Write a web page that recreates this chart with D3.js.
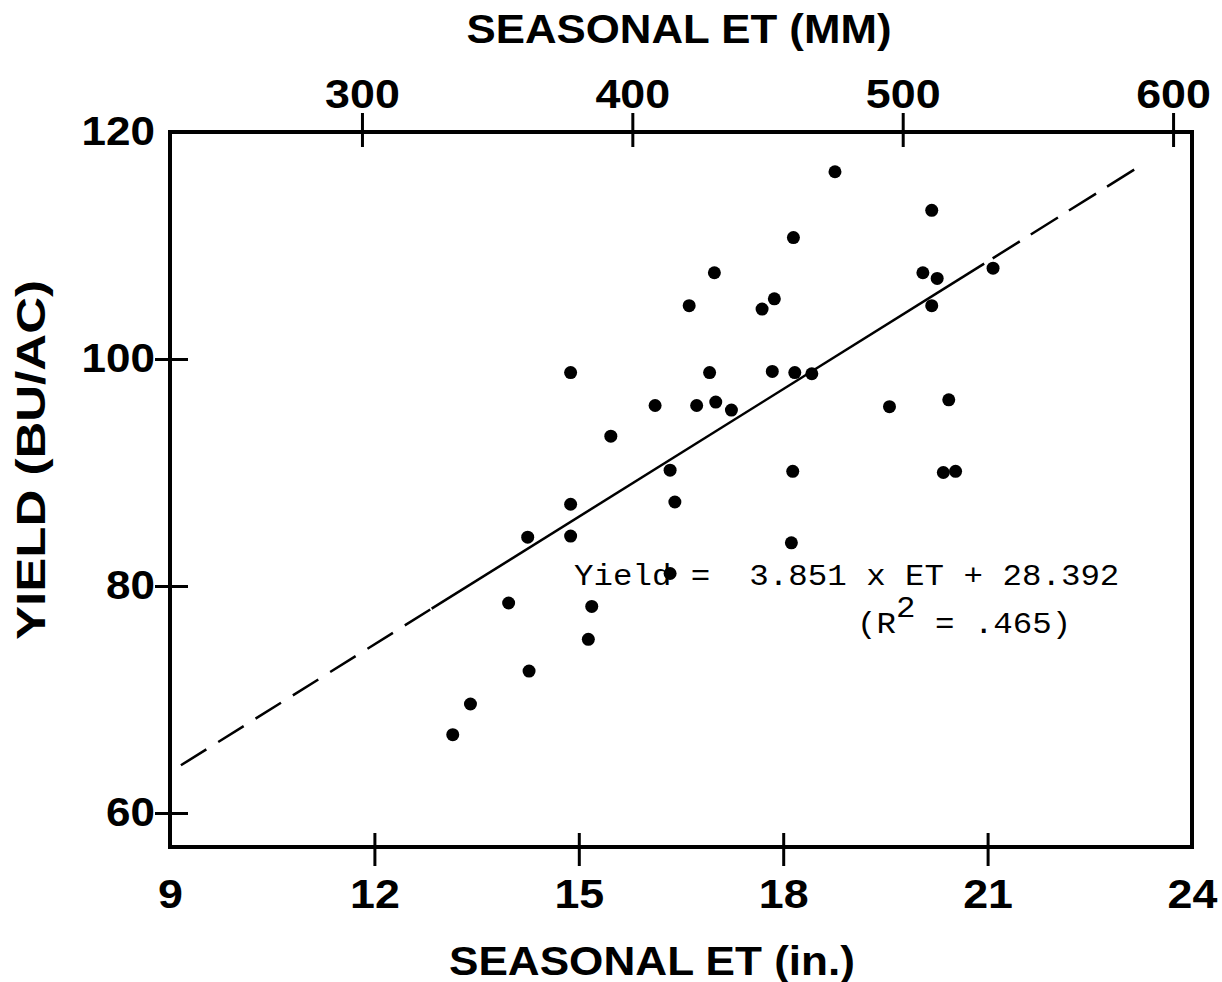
<!DOCTYPE html>
<html>
<head>
<meta charset="utf-8">
<script src="https://cdn.jsdelivr.net/npm/d3@7"></script>
<style>
  body { margin: 0; background: #fff; }
  svg { display: block; }
  .tick text { font-family: "Liberation Sans", Arial, sans-serif; font-weight: bold; font-size: 40px; fill: #000; }
  .title { font-family: "Liberation Sans", Arial, sans-serif; font-weight: bold; font-size: 40px; fill: #000; }
  .eq { font-family: "Liberation Mono", "DejaVu Sans Mono", monospace; font-size: 29px; fill: #000; white-space: pre; }
</style>
</head>
<body>
<div id="chart"></div>
<script>
// seasonal ET (in.) and yield (bu/ac)
var etInches = [13.15, 13.41, 13.97, 14.25, 14.27, 14.88, 14.88, 14.88, 15.14, 15.19,
                15.47, 16.12, 16.34, 16.34, 16.41, 16.62, 16.73, 16.92, 16.99, 17.01,
                17.24, 17.69, 17.84, 17.87, 18.15, 18.17, 18.14, 18.12, 18.42, 18.76,
                19.56, 20.05, 20.18, 20.18, 20.26, 20.43, 20.35, 20.53, 21.08];
var yieldBuAc = [66.9, 69.6, 78.5, 84.3, 72.5, 98.8, 87.2, 84.4, 75.3, 78.2,
                 93.2, 95.9, 90.2, 81.1, 87.4, 104.7, 95.9, 98.8, 107.6, 96.2,
                 95.5, 104.4, 98.9, 105.3, 110.7, 98.8, 90.1, 83.8, 98.7, 116.5,
                 95.8, 107.6, 113.1, 104.7, 107.1, 96.4, 90.0, 90.1, 108.0];

// regression line: dashed outside the data range, solid inside
var fitX = [9.16, 12.84, 20.95, 23.21];
var fitY = [64.2, 78.0, 108.4, 116.9];

var xTicksIn = [9, 12, 15, 18, 21, 24];
var xTicksMm = [300, 400, 500, 600];
var yTicks = [60, 80, 100, 120];

var eqLine1 = "Yield =  3.851 x ET + 28.392";
var eqR2 = ".465";

var svgWidth = 1222;
var svgHeight = 982;
var plotLeft = 170, plotRight = 1192, plotTop = 132, plotBottom = 847;

/* Scale */
var xScale = d3.scaleLinear().domain([9, 24]).range([plotLeft, plotRight]);
var mmScale = d3.scaleLinear().domain([229, 607]).range([plotLeft, plotRight]);
var yScale = d3.scaleLinear().domain([57, 120]).range([plotBottom, plotTop]);

var svg = d3.select("#chart").append("svg")
  .attr("width", svgWidth)
  .attr("height", svgHeight);

/* Axes */
var xAxis = d3.axisBottom(xScale).tickValues(xTicksIn).tickSize(19).tickFormat(d3.format("d"));
var gx = svg.append("g")
  .attr("transform", `translate(0, ${plotBottom})`)
  .call(xAxis);
gx.select(".domain").remove();
gx.selectAll(".tick line")
  .attr("y1", -14)
  .attr("stroke-width", 3)
  .style("opacity", d => (d == 9 || d == 24) ? 0 : 1);
gx.selectAll(".tick text")
  .attr("y", 61).attr("dy", 0)
  .attr("transform", "scale(1.12,1)");

var xAxisTop = d3.axisTop(mmScale).tickValues(xTicksMm).tickSize(19).tickFormat(d3.format("d"));
var gxt = svg.append("g")
  .attr("transform", `translate(0, ${plotTop})`)
  .call(xAxisTop);
gxt.select(".domain").remove();
gxt.selectAll(".tick line")
  .attr("y1", 15)
  .attr("stroke-width", 3);
gxt.selectAll(".tick text")
  .attr("y", -24).attr("dy", 0)
  .attr("transform", "scale(1.12,1)");

var yAxis = d3.axisLeft(yScale).tickValues(yTicks).tickSize(15);
var gy = svg.append("g")
  .attr("transform", `translate(${plotLeft}, 0)`)
  .call(yAxis);
gy.select(".domain").remove();
gy.selectAll(".tick line")
  .attr("x1", 18)
  .attr("stroke-width", 3)
  .style("opacity", d => d == 120 ? 0 : 1);
gy.selectAll(".tick text")
  .attr("x", -15 / 1.1)
  .attr("transform", "scale(1.1,1)");

/* Frame */
svg.append("rect")
  .attr("x", plotLeft).attr("y", plotTop)
  .attr("width", plotRight - plotLeft).attr("height", plotBottom - plotTop)
  .attr("fill", "none")
  .attr("stroke", "#000")
  .attr("stroke-width", 4);

/* Titles */
svg.append("text")
  .attr("class", "title")
  .attr("x", 679).attr("y", 43)
  .attr("text-anchor", "middle")
  .attr("textLength", 425)
  .attr("lengthAdjust", "spacingAndGlyphs")
  .text("SEASONAL ET (MM)");

svg.append("text")
  .attr("class", "title")
  .attr("x", 652).attr("y", 975)
  .attr("text-anchor", "middle")
  .attr("textLength", 406)
  .attr("lengthAdjust", "spacingAndGlyphs")
  .text("SEASONAL ET (in.)");

svg.append("text")
  .attr("class", "title")
  .attr("transform", "translate(45, 460) rotate(-90)")
  .attr("text-anchor", "middle")
  .attr("textLength", 360)
  .attr("lengthAdjust", "spacingAndGlyphs")
  .text("YIELD (BU/AC)");

/* Regression line */
var fit = fitX.map((x, i) => ({x: x, y: fitY[i]}));
var line = d3.line().x(d => xScale(d.x)).y(d => yScale(d.y));

svg.append("path")
  .attr("d", line([fit[0], fit[1]]))
  .attr("fill", "none").attr("stroke", "#000").attr("stroke-width", 2.5)
  .attr("stroke-dasharray", "30,14");
svg.append("path")
  .attr("d", line([fit[1], fit[2]]))
  .attr("fill", "none").attr("stroke", "#000").attr("stroke-width", 2.5);
svg.append("path")
  .attr("d", line([fit[2], fit[3]]))
  .attr("fill", "none").attr("stroke", "#000").attr("stroke-width", 2.5)
  .attr("stroke-dasharray", "32,13")
  .attr("stroke-dashoffset", -10);

/* Points */
var points = etInches.map((x, i) => ({x: x, y: yieldBuAc[i]}));
svg.append("g")
  .selectAll("circle")
  .data(points).enter()
  .append("circle")
  .attr("cx", d => xScale(d.x))
  .attr("cy", d => yScale(d.y))
  .attr("r", 6.5)
  .attr("fill", "#000");

/* Equation */
var eq = svg.append("g")
  .attr("transform", "translate(574, 585) scale(1.12,1)");
eq.append("text")
  .attr("class", "eq")
  .text(eqLine1);
var r2 = eq.append("text")
  .attr("class", "eq")
  .attr("x", (857 - 574) / 1.12)
  .attr("y", 48);
r2.append("tspan").text("(R");
r2.append("tspan").attr("dy", -16).text("2");
r2.append("tspan").attr("dy", 16).text(" = " + eqR2 + ")");
</script>
</body>
</html>
